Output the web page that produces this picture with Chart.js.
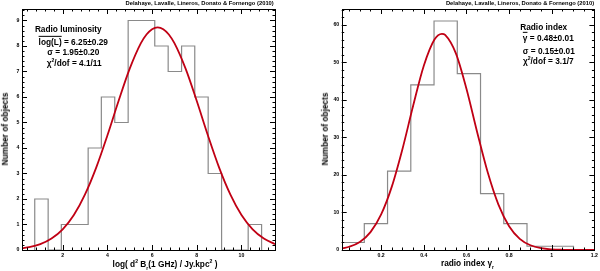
<!DOCTYPE html>
<html>
<head>
<meta charset="utf-8">
<script src="https://cdn.jsdelivr.net/npm/chart.js"></script>
<style>
  html, body { margin: 0; padding: 0; background: #fff; }
  #wrap { position: relative; width: 600px; height: 271px; overflow: hidden;
          font-family: "Liberation Sans", Arial, Helvetica, sans-serif; font-weight: bold; color: #000; }
  canvas { position: absolute; top: 0; }
  .t { position: absolute; white-space: nowrap; line-height: 1; transform: translate(-50%, -50%); }
  .credit { font-size: 5.8px; }
  .lab { font-size: 8.3px; }
  .ov { text-decoration: overline; }
  sup, sub { font-size: 0.62em; line-height: 0; }
  .ytitle { font-size: 8.3px; transform: translate(-50%, -50%) rotate(-90deg); }
</style>
</head>
<body>
<div id="wrap">
  <canvas id="lumChart" width="300" height="271" style="left:0"></canvas>
  <canvas id="idxChart" width="300" height="271" style="left:300px"></canvas>

  <div class="t credit" style="left:199.7px;top:3.8px">Delahaye, Lavalle, Lineros, Donato &amp; Fornengo (2010)</div>
  <div class="t lab" style="left:68.3px;top:29.3px">Radio luminosity</div>
  <div class="t lab" style="left:73.3px;top:41.9px"><span class="ov">log(L)</span> = 6.25±0.29</div>
  <div class="t lab" style="left:73.3px;top:52.2px">σ = 1.95±0.20</div>
  <div class="t lab" style="left:74.2px;top:62.6px">χ<sup>2</sup>/dof = 4.1/11</div>
  <div class="t ytitle" style="left:4.5px;top:129px">Number of objects</div>
  <div class="t lab" style="left:165px;top:263.5px">log( d<sup>2</sup> B<sub>r</sub>(1 GHz) / Jy.kpc<sup>2</sup> )</div>

  <div class="t credit" style="left:520px;top:3.8px">Delahaye, Lavalle, Lineros, Donato &amp; Fornengo (2010)</div>
  <div class="t lab" style="left:543.7px;top:26.7px">Radio index</div>
  <div class="t lab" style="left:548.3px;top:37.6px"><span class="ov">γ</span> = 0.48±0.01</div>
  <div class="t lab" style="left:548.8px;top:50.5px">σ = 0.15±0.01</div>
  <div class="t lab" style="left:548.3px;top:61px">χ<sup>2</sup>/dof = 3.1/7</div>
  <div class="t ytitle" style="left:325px;top:129px">Number of objects</div>
  <div class="t lab" style="left:467.5px;top:263px">radio index γ<sub>r</sub></div>
</div>
<script>
// radio luminosity histogram (bin edges + counts) and gaussian fit
const lumEdges = [0.75, 1.35, 1.94, 2.54, 3.14, 3.73, 4.33, 4.93, 5.52, 6.12, 6.72, 7.32, 7.91, 8.51, 9.11, 9.70, 10.30, 10.90];
const lumCounts = [2, 0, 1, 1, 4, 6, 5, 9, 9, 8, 7, 8, 6, 3, 0, 0, 1];
const lumFitX = [0.2, 0.5, 1, 1.5, 2, 2.5, 3, 3.5, 4, 4.5, 5, 5.5, 5.75, 6, 6.25, 6.5, 6.75, 7, 7.5, 8, 8.5, 9, 9.5, 10, 10.5, 11, 11.5];
const lumFitY = [0.07, 0.11, 0.23, 0.45, 0.81, 1.37, 2.18, 3.23, 4.49, 5.84, 7.11, 8.11, 8.45, 8.66, 8.73, 8.66, 8.45, 8.11, 7.11, 5.84, 4.49, 3.23, 2.18, 1.37, 0.81, 0.45, 0.23];
const lumXTicks = [2, 4, 6, 8, 10];
const lumYTicks = [0, 1, 2, 3, 4, 5, 6, 7, 8, 9];

// radio index histogram and fit
const idxEdges = [0.012, 0.121, 0.230, 0.339, 0.448, 0.557, 0.666, 0.775, 0.884, 0.993, 1.102];
const idxCounts = [2, 7, 21, 44, 61, 47, 15, 7, 1, 1];
const idxFitX = [0.02, 0.05, 0.10, 0.15, 0.20, 0.25, 0.30, 0.35, 0.40, 0.45, 0.485, 0.50, 0.55, 0.60, 0.65, 0.70, 0.75, 0.80, 0.85, 0.90, 0.95, 1.00, 1.05, 1.10, 1.15, 1.20];
const idxFitY = [0.47, 0.86, 2.14, 4.76, 9.47, 16.88, 26.92, 38.42, 49.06, 56.05, 57.6, 57.31, 52.44, 42.94, 31.45, 20.62, 12.09, 6.35, 2.98, 1.26, 0.47, 0.16, 0.05, 0.01, 0, 0];
const idxXTicks = [0.2, 0.4, 0.6, 0.8, 1, 1.2];
const idxYTicks = [0, 10, 20, 30, 40, 50, 60];

const FONT = '"Liberation Sans", Arial, Helvetica, sans-serif';

function histPoints(edges, counts) {
    // outline: start at 0, one point per bin (stepped 'before'), drop back to 0
    const pts = [{x: edges[0], y: 0}];
    counts.forEach((c, i) => pts.push({x: edges[i], y: c}));
    pts.push({x: edges[edges.length - 1], y: 0});
    return pts;
}

function curvePoints(xs, ys) {
    return xs.map((x, i) => ({x: x, y: ys[i]}));
}

// ROOT-like frame with inward major/minor ticks on all four sides
const rootFrame = {
    id: 'rootFrame',
    afterDatasetsDraw(chart, args, opts) {
        const {ctx, chartArea: a, scales: {x, y}} = chart;
        const px = v => Math.round(v) + 0.5;
        ctx.save();
        ctx.strokeStyle = '#000';
        ctx.lineWidth = 1;
        ctx.beginPath();
        const k0 = Math.ceil(x.min / opts.xMinor - 1e-6), k1 = Math.floor(x.max / opts.xMinor + 1e-6);
        for (let k = k0; k <= k1; k++) {
            const v = k * opts.xMinor;
            const r = v / opts.xMajor;
            const len = Math.abs(r - Math.round(r)) < 1e-6 ? 5 : 2.5;
            const p = px(x.getPixelForValue(v));
            ctx.moveTo(p, a.bottom); ctx.lineTo(p, a.bottom - len);
            ctx.moveTo(p, a.top); ctx.lineTo(p, a.top + len);
        }
        const j0 = Math.ceil(y.min / opts.yMinor - 1e-6), j1 = Math.floor(y.max / opts.yMinor + 1e-6);
        for (let j = j0; j <= j1; j++) {
            const v = j * opts.yMinor;
            const r = v / opts.yMajor;
            const len = Math.abs(r - Math.round(r)) < 1e-6 ? 5 : 2.5;
            const p = px(y.getPixelForValue(v));
            ctx.moveTo(a.left, p); ctx.lineTo(a.left + len, p);
            ctx.moveTo(a.right, p); ctx.lineTo(a.right - len, p);
        }
        ctx.stroke();
        ctx.strokeRect(px(a.left), px(a.top), Math.round(a.right) - Math.round(a.left), Math.round(a.bottom) - Math.round(a.top));
        ctx.restore();
    }
};

function makeChart(id, cfg) {
    const ctx = document.getElementById(id).getContext('2d');
    const tickFont = {family: FONT, size: 5.2, weight: 'bold'};
    const fmt = v => String(+Number(v).toFixed(2));
    return new Chart(ctx, {
        type: 'line',
        data: {
            datasets: [{
                data: curvePoints(cfg.fitX, cfg.fitY),
                borderColor: '#c00014',
                borderWidth: 1.8,
                cubicInterpolationMode: 'monotone',
                pointRadius: 0,
                fill: false
            }, {
                data: histPoints(cfg.edges, cfg.counts),
                borderColor: '#8a8a8a',
                borderWidth: 1.2,
                stepped: 'before',
                pointRadius: 0,
                fill: false
            }]
        },
        options: {
            responsive: false,
            animation: false,
            layout: {padding: {top: 9, right: cfg.padRight, left: 0, bottom: 0}},
            plugins: {
                legend: {display: false},
                tooltip: {enabled: false},
                rootFrame: cfg.ticks
            },
            scales: {
                x: {
                    type: 'linear',
                    min: cfg.xMin,
                    max: cfg.xMax,
                    grid: {display: false, drawTicks: false, tickLength: 0},
                    border: {display: false},
                    ticks: {font: tickFont, color: '#000', padding: 2, maxRotation: 0, autoSkip: false, callback: fmt},
                    afterBuildTicks: s => { s.ticks = cfg.xTicks.map(v => ({value: v})); },
                    afterFit: s => { s.height = 21; }
                },
                y: {
                    type: 'linear',
                    min: 0,
                    max: cfg.yMax,
                    grid: {display: false, drawTicks: false, tickLength: 0},
                    border: {display: false},
                    ticks: {font: tickFont, color: '#000', padding: 2.5, autoSkip: false, callback: fmt},
                    afterBuildTicks: s => { s.ticks = cfg.yTicks.map(v => ({value: v})); },
                    afterFit: s => { s.width = cfg.yWidth; }
                }
            }
        },
        plugins: [rootFrame]
    });
}

makeChart('lumChart', {
    edges: lumEdges, counts: lumCounts, fitX: lumFitX, fitY: lumFitY,
    xTicks: lumXTicks, yTicks: lumYTicks,
    xMin: 0.18, xMax: 11.5, yMax: 9.45,
    yWidth: 22, padRight: 25,
    ticks: {xMinor: 0.4, xMajor: 2, yMinor: 0.2, yMajor: 1}
});

makeChart('idxChart', {
    edges: idxEdges, counts: idxCounts, fitX: idxFitX, fitY: idxFitY,
    xTicks: idxXTicks, yTicks: idxYTicks,
    xMin: 0.015, xMax: 1.2, yMax: 64.2,
    yWidth: 41.7, padRight: 5.3,
    ticks: {xMinor: 0.05, xMajor: 0.2, yMinor: 2, yMajor: 10}
});
</script>
</body>
</html>
